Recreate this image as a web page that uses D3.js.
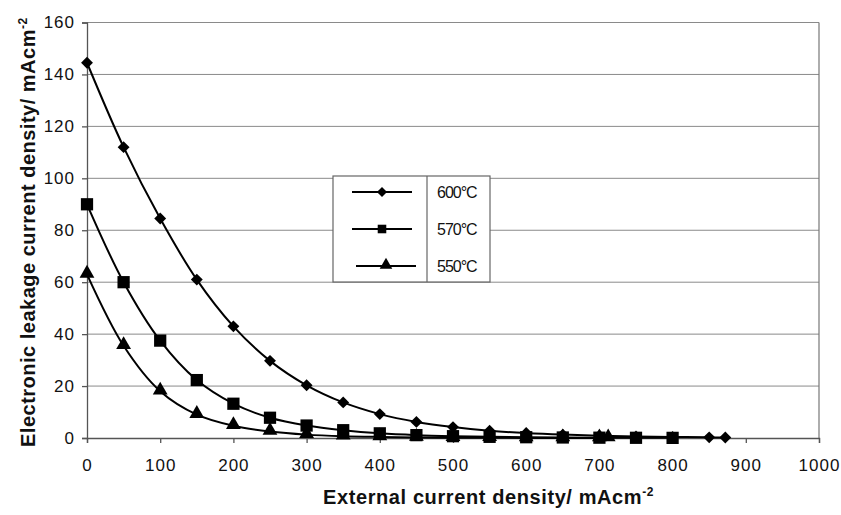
<!DOCTYPE html>
<html>
<head>
<meta charset="utf-8">
<script src="https://cdn.jsdelivr.net/npm/d3@7"></script>
<style>
  body { margin: 0; background: #fff; }
  svg text { font-family: "Liberation Sans", Arial, sans-serif; }
</style>
</head>
<body>
<svg id="chart" width="841" height="515"></svg>
<script>
// values
const x600 = [0, 50, 100, 150, 200, 250, 300, 350, 400, 450, 500, 550, 600, 650, 700, 750, 800, 850, 872];
const y600 = [144.5, 112, 84.5, 61, 43, 29.7, 20.3, 13.7, 9.2, 6.2, 4.2, 2.8, 1.9, 1.3, 0.9, 0.6, 0.4, 0.25, 0.2];
const x570 = [0, 50, 100, 150, 200, 250, 300, 350, 400, 450, 500, 550, 600, 650, 700, 750, 800];
const y570 = [90, 60, 37.5, 22.3, 13.2, 7.8, 4.8, 3, 1.8, 1.1, 0.7, 0.45, 0.3, 0.2, 0.12, 0.08, 0.05];
const x550 = [0, 50, 100, 150, 200, 250, 300, 350, 400, 450, 500, 550, 600, 650, 700, 712];
const y550 = [63, 35.5, 18, 9, 4.7, 2.5, 1.3, 0.7, 0.4, 0.2, 0.12, 0.07, 0.04, 0.02, 0.01, 0.01];
const seriesNames = ['600\u00B0C', '570\u00B0C', '550\u00B0C'];
const xTicks = d3.range(0, 1001, 100);
const yTicks = d3.range(0, 161, 20);

const svg = d3.select('#chart');
const margin = {top: 22.5, right: 22, bottom: 77, left: 87};
const width = +svg.attr('width') - margin.left - margin.right;
const height = +svg.attr('height') - margin.top - margin.bottom;

const x = d3.scaleLinear().domain([0, 1000]).range([0, width]);
const y = d3.scaleLinear().domain([0, 160]).range([height, 0]);

const g = svg.append('g').attr('transform', `translate(${margin.left},${margin.top})`);

// gridlines
g.append('g')
  .selectAll('line')
  .data(yTicks.filter(d => d > 0))
  .enter().append('line')
    .attr('x1', 0).attr('x2', width)
    .attr('y1', d => y(d)).attr('y2', d => y(d))
    .attr('stroke', '#8a8a8a').attr('stroke-width', 1);

// right frame
g.append('line')
  .attr('x1', width).attr('x2', width)
  .attr('y1', 0).attr('y2', height)
  .attr('stroke', '#777').attr('stroke-width', 1.2);

// axes
const xAxis = g.append('g')
  .attr('transform', `translate(0,${height})`)
  .call(d3.axisBottom(x).tickValues(xTicks).tickFormat(d3.format('d')).tickSize(5).tickPadding(16));
const yAxis = g.append('g')
  .call(d3.axisLeft(y).tickValues(yTicks).tickFormat(d3.format('d')).tickSize(5).tickPadding(7));

[xAxis, yAxis].forEach(a => {
  a.select('.domain').attr('stroke', '#555').attr('stroke-width', 1.3);
  a.selectAll('.tick line').attr('stroke', '#555').attr('stroke-width', 1.3);
  a.selectAll('.tick text')
    .attr('fill', '#111')
    .style('font-size', '17px')
    .style('letter-spacing', '1px')
    .style('font-family', '"Liberation Sans", Arial, sans-serif');
});

// axis titles
const xt = svg.append('text')
  .attr('x', 323)
  .attr('y', 504)
  .attr('text-anchor', 'start')
  .style('font-size', '20px').style('font-weight', 'bold')
  .style('letter-spacing', '0.6px').attr('fill', '#111');
xt.append('tspan').text('External current density/ mAcm');
xt.append('tspan').attr('dy', -8).style('font-size', '12px').text('-2');

const yt = svg.append('text')
  .attr('transform', 'translate(35,447) rotate(-90)')
  .attr('text-anchor', 'start')
  .style('font-size', '20px').style('font-weight', 'bold')
  .style('letter-spacing', '0.5px').attr('fill', '#111');
yt.append('tspan').text('Electronic leakage current density/ mAcm');
yt.append('tspan').attr('dy', -8).style('font-size', '12px').text('-2');

// series
const series = [
  {name: seriesNames[0], xs: x600, ys: y600, shape: 'diamond'},
  {name: seriesNames[1], xs: x570, ys: y570, shape: 'square'},
  {name: seriesNames[2], xs: x550, ys: y550, shape: 'triangle'}
];

const symbolOf = (shape) => {
  if (shape === 'diamond') {
    return d3.symbol().type(d3.symbolDiamond2).size(90)();
  } else if (shape === 'square') {
    return d3.symbol().type(d3.symbolSquare).size(150)();
  } else {
    return d3.symbol().type(d3.symbolTriangle).size(95)();
  }
};

const line = d3.line()
  .x(d => x(d[0]))
  .y(d => y(d[1]))
  .curve(d3.curveCatmullRom.alpha(0.5));

series.slice().reverse().forEach(s => {
  const pts = s.xs.map((v, i) => [v, s.ys[i]]);
  g.append('path')
    .datum(pts)
    .attr('d', line)
    .attr('fill', 'none')
    .attr('stroke', '#000')
    .attr('stroke-width', 2);
  g.append('g')
    .selectAll('path')
    .data(pts)
    .enter().append('path')
      .attr('d', symbolOf(s.shape))
      .attr('transform', d => `translate(${x(d[0])},${y(d[1])})${s.shape === 'triangle' ? ' translate(0,-1)' : ''}`)
      .attr('fill', '#000');
});

// legend
const legend = svg.append('g').attr('transform', 'translate(333,176)');
legend.append('rect')
  .attr('width', 157).attr('height', 106)
  .attr('fill', '#fff').attr('stroke', '#666').attr('stroke-width', 1.2);
legend.append('line')
  .attr('x1', 94).attr('x2', 94).attr('y1', 0).attr('y2', 106)
  .attr('stroke', '#666').attr('stroke-width', 1.2);

const rowY = [16, 53, 90];
series.forEach((s, i) => {
  const row = legend.append('g').attr('transform', `translate(0,${rowY[i]})`);
  const off = s.shape === 'triangle' ? 4 : 0;
  row.append('line')
    .attr('x1', 19 + off).attr('x2', 79 + off)
    .attr('y1', 0).attr('y2', 0)
    .attr('stroke', '#000').attr('stroke-width', 2);
  row.append('path')
    .attr('d', symbolOf(s.shape))
    .attr('transform', `translate(${49 + off},${s.shape === 'triangle' ? -1 : 0}) scale(${s.shape === 'square' ? 0.7 : 0.85})`)
    .attr('fill', '#000');
  row.append('text')
    .attr('x', 104).attr('y', 0).attr('dy', '0.35em')
    .style('font-size', '16px').style('letter-spacing', '-1px')
    .attr('fill', '#111')
    .text(s.name);
});
</script>
</body>
</html>
